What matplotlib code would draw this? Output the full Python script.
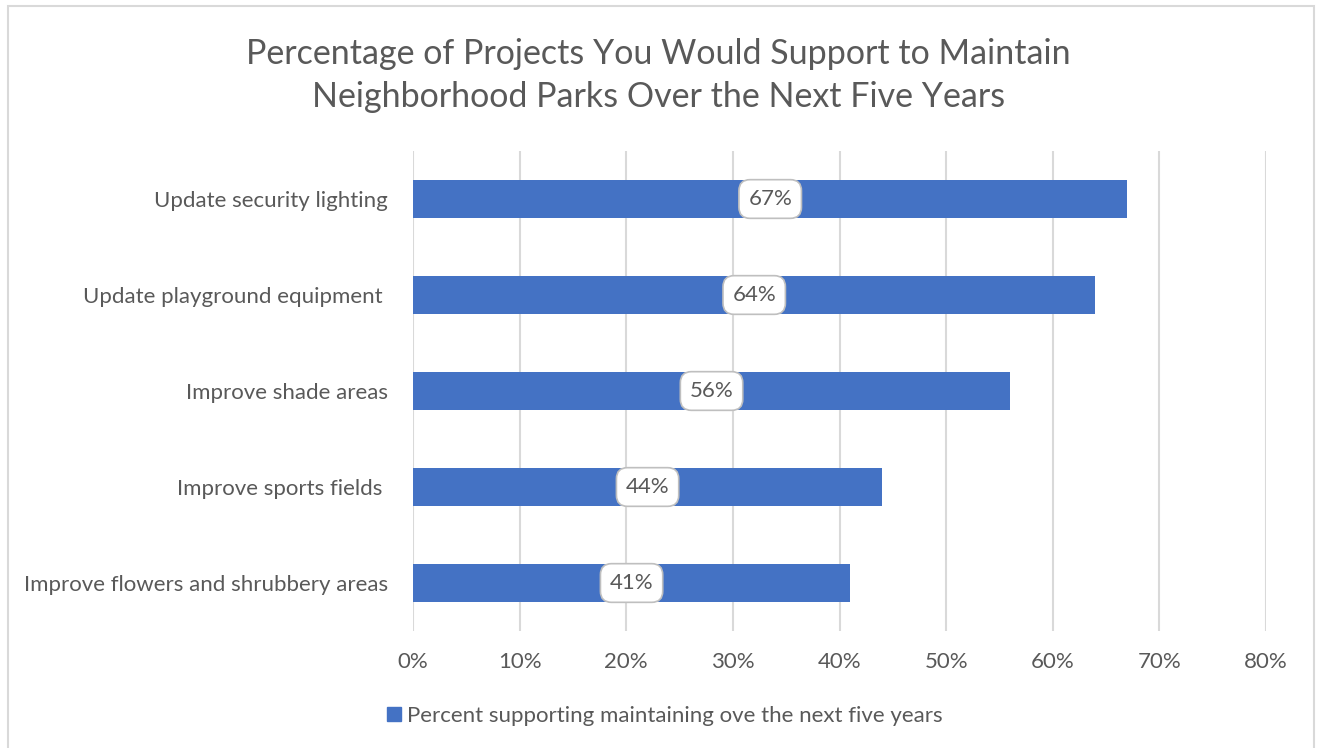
import matplotlib
matplotlib.use("Agg")
import matplotlib.pyplot as plt
from matplotlib.patches import Patch, Rectangle

categories = [
    "Update security lighting",
    "Update playground equipment ",
    "Improve shade areas",
    "Improve sports fields ",
    "Improve flowers and shrubbery areas",
]
values = [67, 64, 56, 44, 41]
xticks = [0, 10, 20, 30, 40, 50, 60, 70, 80]
series_name = "Percent supporting maintaining ove the next five years"
title = "Percentage of Projects You Would Support to Maintain\nNeighborhood Parks Over the Next Five Years"

bar_color = "#4472C4"
text_color = "#595959"
grid_color = "#D9D9D9"

plt.rcParams["font.family"] = ["Lato", "DejaVu Sans"]

fig = plt.figure(figsize=(13.17, 7.48), dpi=100)
ax = fig.add_axes([413 / 1317, 117 / 748, 853 / 1317, 480 / 748])

ypos = list(range(len(categories)))
ax.barh(ypos, values, height=0.4, color=bar_color, zorder=3)
ax.set_ylim(len(categories) - 0.5, -0.5)
ax.set_xlim(0, 80)
ax.set_yticks(ypos)
ax.set_yticklabels(categories, fontsize=16, color=text_color)
ax.set_xticks(xticks)
ax.set_xticklabels([f"{t}%" for t in xticks], fontsize=16, color=text_color)
ax.tick_params(axis="both", length=0)
ax.tick_params(axis="y", pad=18)
ax.tick_params(axis="x", pad=15)
ax.grid(axis="x", color=grid_color, linewidth=1.5, zorder=0)
for s in ax.spines.values():
    s.set_visible(False)

for y, v in zip(ypos, values):
    ax.text(v / 2, y, f"{v}%", ha="center", va="center", fontsize=16,
            color=text_color, zorder=5,
            bbox=dict(boxstyle="round,pad=0.42,rounding_size=0.5",
                      facecolor="white", edgecolor="#BFBFBF", linewidth=1.2))

fig.text(0.5, 0.899, title, ha="center", va="center", fontsize=24.5,
         color=text_color, linespacing=1.45)

handle = Patch(facecolor=bar_color, edgecolor=bar_color)
fig.legend([handle], [series_name], loc="center", bbox_to_anchor=(0.505, 0.043),
           frameon=False, fontsize=16, labelcolor=text_color,
           handlelength=0.6, handleheight=0.6, handletextpad=0.3)

# outer chart frame
fig.patches.append(Rectangle((8 / 1317, -0.05), 1306 / 1317, 1.05 - 6 / 748,
                             transform=fig.transFigure, fill=False,
                             edgecolor="#D9D9D9", linewidth=1.5))

fig.savefig("out.png", dpi=100)
